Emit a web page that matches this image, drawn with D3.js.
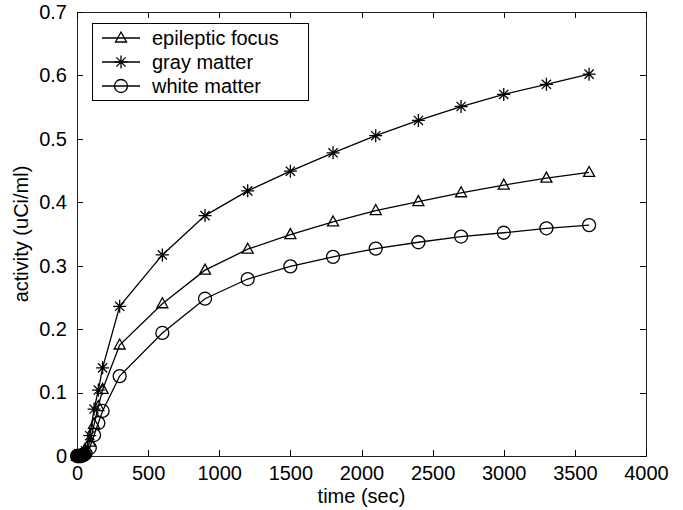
<!DOCTYPE html>
<html>
<head>
<meta charset="utf-8">
<script src="https://cdn.jsdelivr.net/npm/d3@7"></script>
<style>
body { margin: 0; background: #fff; }
text { font-family: "Liberation Sans", Arial, sans-serif; fill: #000; }
</style>
</head>
<body>
<svg id="chart" width="683" height="510"></svg>
<script>
// sample times (sec) and activities
var times = [0, 5, 10, 15, 20, 25, 30, 40, 50, 60, 90, 120, 150, 180, 300, 600, 900, 1200, 1500, 1800, 2100, 2400, 2700, 3000, 3300, 3600];
var epilepticFocus = [0, 0, 0, 0, 0, 0.001, 0.001, 0.002, 0.003, 0.006, 0.022, 0.05, 0.078, 0.105, 0.175, 0.24, 0.293, 0.326, 0.349, 0.369, 0.387, 0.401, 0.415, 0.427, 0.438, 0.447];
var grayMatter = [0, 0, 0, 0, 0, 0.001, 0.001, 0.002, 0.004, 0.008, 0.032, 0.074, 0.104, 0.139, 0.236, 0.317, 0.379, 0.418, 0.449, 0.478, 0.505, 0.529, 0.551, 0.570, 0.586, 0.602];
var whiteMatter = [0, 0, 0, 0, 0, 0, 0, 0.001, 0.002, 0.004, 0.013, 0.033, 0.052, 0.071, 0.126, 0.194, 0.248, 0.279, 0.299, 0.314, 0.327, 0.337, 0.346, 0.352, 0.359, 0.364];
var seriesNames = ["epileptic focus", "gray matter", "white matter"];
var seriesMarkers = ["triangle", "star", "circle"];
var xTicks = [0, 500, 1000, 1500, 2000, 2500, 3000, 3500, 4000];
var yTicks = [0, 0.1, 0.2, 0.3, 0.4, 0.5, 0.6, 0.7];

var svg = d3.select("#chart");
var plotLeft = 77, plotRight = 646, plotTop = 12, plotBottom = 456;
var fontSize = "20px";

var x = d3.scaleLinear().domain([0, 4000]).range([plotLeft, plotRight]);
var y = d3.scaleLinear().domain([0, 0.7]).range([plotBottom, plotTop]);

var allSeries = [epilepticFocus, grayMatter, whiteMatter];

// draw marker shape at (0,0)
function drawMarker(g, type) {
    if (type == "triangle") {
        g.append("path").attr("d", "M0,-6L5.5,4L-5.5,4Z")
            .attr("fill", "none").attr("stroke", "#000").attr("stroke-width", 1.3);
    } else if (type == "circle") {
        g.append("circle").attr("r", 6.5)
            .attr("fill", "none").attr("stroke", "#000").attr("stroke-width", 1.3);
    } else {
        var s = 6.5, d = 4.6;
        g.append("path").attr("d", "M0,-" + s + "V" + s + "M-" + s + ",0H" + s +
                "M-" + d + ",-" + d + "L" + d + "," + d + "M-" + d + "," + d + "L" + d + ",-" + d)
            .attr("fill", "none").attr("stroke", "#000").attr("stroke-width", 1.3);
    }
}

// plot box
svg.append("rect")
    .attr("x", plotLeft).attr("y", plotTop)
    .attr("width", plotRight - plotLeft).attr("height", plotBottom - plotTop)
    .attr("fill", "none").attr("stroke", "#222").attr("stroke-width", 1)
    .attr("shape-rendering", "crispEdges");

// axes with inward ticks
var xAxis = svg.append("g").attr("transform", "translate(0," + plotBottom + ")")
    .call(d3.axisBottom(x).tickValues(xTicks).tickSizeInner(-6).tickSizeOuter(0).tickPadding(10).tickFormat(d3.format("d")));
var xAxisTop = svg.append("g").attr("transform", "translate(0," + plotTop + ")")
    .call(d3.axisTop(x).tickValues(xTicks).tickSizeInner(-6).tickSizeOuter(0).tickFormat(""));
var yAxis = svg.append("g").attr("transform", "translate(" + plotLeft + ",0)")
    .call(d3.axisLeft(y).tickValues(yTicks).tickSizeInner(-6).tickSizeOuter(0).tickPadding(10)
        .tickFormat(function(d){ return d == 0 ? "0" : d3.format(".1f")(d); }));
var yAxisRight = svg.append("g").attr("transform", "translate(" + plotRight + ",0)")
    .call(d3.axisRight(y).tickValues(yTicks).tickSizeInner(-6).tickSizeOuter(0).tickFormat(""));

[xAxis, xAxisTop, yAxis, yAxisRight].forEach(function(a){
    a.select(".domain").remove();
    a.selectAll("line").attr("stroke", "#000").attr("shape-rendering", "crispEdges");
    a.selectAll("text").style("font-size", fontSize).attr("font-family", null);
});
xAxis.selectAll("text").attr("dy", "0.71em");

// series lines and markers
var line = d3.line()
    .x(function(d, i){ return x(times[i]); })
    .y(function(d){ return y(d); });

allSeries.forEach(function(vals, k) {
    svg.append("path").datum(vals)
        .attr("d", line)
        .attr("fill", "none").attr("stroke", "#000").attr("stroke-width", 1.3);
    vals.forEach(function(v, i) {
        var g = svg.append("g").attr("transform", "translate(" + x(times[i]) + "," + y(v) + ")");
        drawMarker(g, seriesMarkers[k]);
    });
});

// legend
var legend = svg.append("g");
legend.append("rect")
    .attr("x", 92).attr("y", 23).attr("width", 216).attr("height", 77)
    .attr("fill", "#fff").attr("stroke", "#000").attr("stroke-width", 1)
    .attr("shape-rendering", "crispEdges");
var legendRows = [38, 62, 86];
seriesNames.forEach(function(name, k) {
    legend.append("line")
        .attr("x1", 102).attr("x2", 140).attr("y1", legendRows[k]).attr("y2", legendRows[k])
        .attr("stroke", "#000").attr("stroke-width", 1.3);
    var g = legend.append("g").attr("transform", "translate(121," + legendRows[k] + ")");
    drawMarker(g, seriesMarkers[k]);
    legend.append("text")
        .attr("x", 152).attr("y", legendRows[k]).attr("dy", "0.35em")
        .style("font-size", fontSize)
        .text(name);
});

// axis labels
svg.append("text")
    .attr("x", (plotLeft + plotRight) / 2).attr("y", 503)
    .attr("text-anchor", "middle").style("font-size", fontSize)
    .text("time (sec)");
svg.append("text")
    .attr("transform", "translate(28," + (plotTop + plotBottom) / 2 + ") rotate(-90)")
    .attr("text-anchor", "middle").style("font-size", fontSize)
    .text("activity (uCi/ml)");
</script>
</body>
</html>
